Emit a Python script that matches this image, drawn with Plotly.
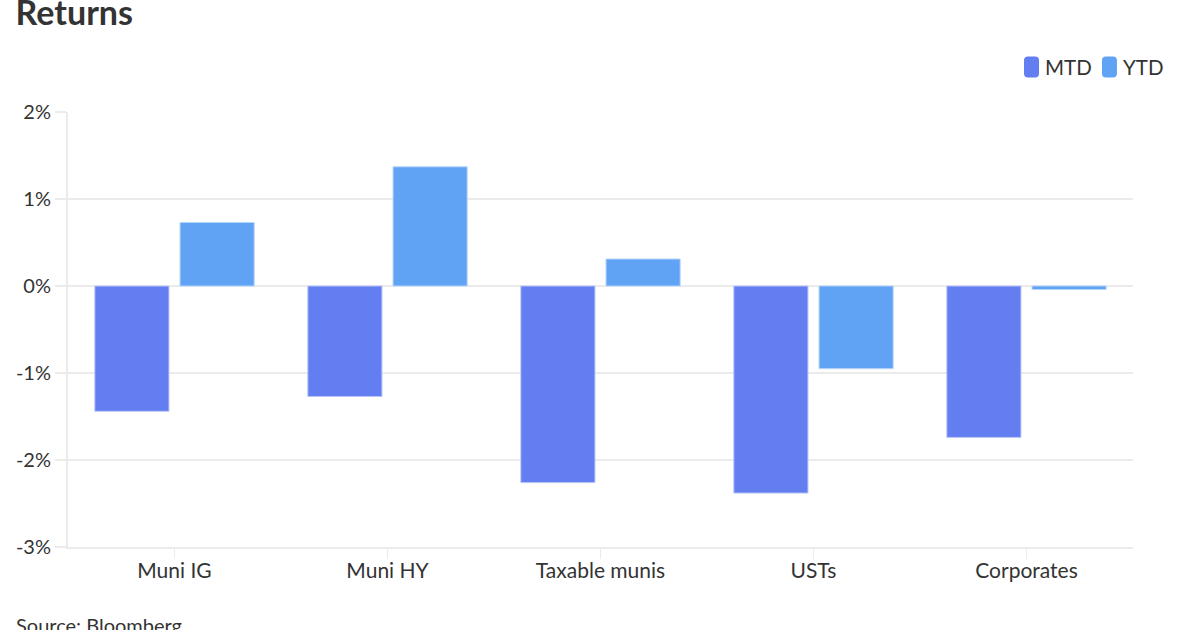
import plotly.graph_objects as go

categories = ["Muni IG", "Muni HY", "Taxable munis", "USTs", "Corporates"]
mtd = [-1.44, -1.27, -2.26, -2.38, -1.74]
ytd = [0.73, 1.37, 0.31, -0.95, -0.04]
y_ticks = [2, 1, 0, -1, -2, -3]
y_tick_labels = ["2%", "1%", "0%", "-1%", "-2%", "-3%"]
series_names = ["MTD", "YTD"]
series_colors = ["#637ef0", "#60a3f4"]
series_edges = ["#b9c5f7", "#b5d4fa"]

FONT = "Lato, 'Open Sans', sans-serif"
GRID = "#ebebeb"
TXT = "#333333"

fig = go.Figure()
for name, vals, col, edge in zip(series_names, [mtd, ytd], series_colors, series_edges):
    fig.add_trace(go.Bar(
        name=name, x=categories, y=vals,
        marker=dict(color=col, line=dict(color=edge, width=1)),
    ))

fig.update_layout(
    width=1200, height=630,
    paper_bgcolor="white", plot_bgcolor="white",
    margin=dict(l=68, r=67, t=112, b=83),
    barmode="group", bargap=0.2, bargroupgap=0.13,
    font=dict(family=FONT, size=20, color=TXT),
    title=dict(text="<b>Returns</b>", x=0.013, xanchor="left",
               yref="container", y=0.979, yanchor="middle",
               font=dict(family=FONT, size=34, color=TXT)),
    showlegend=False,
)
fig.update_xaxes(
    showgrid=False, showline=True, linecolor=GRID, linewidth=2,
    ticks="outside", ticklen=10, tickcolor=GRID, tickwidth=1,
    ticklabelstandoff=-6,
    tickfont=dict(size=21, color=TXT),
)
fig.update_yaxes(
    range=[-3, 2], tickvals=y_ticks, ticktext=y_tick_labels,
    showgrid=True, gridcolor=GRID, gridwidth=2,
    zeroline=True, zerolinecolor=GRID, zerolinewidth=2,
    showline=True, linecolor=GRID, linewidth=2,
    ticks="outside", ticklen=11, tickcolor=GRID, tickwidth=2,
    tickfont=dict(size=20, color=TXT),
)

# custom legend with rounded swatches
rr = "M -7.5 -6.5 Q -7.5 -10.5 -3.5 -10.5 L 3.5 -10.5 Q 7.5 -10.5 7.5 -6.5 L 7.5 6.5 Q 7.5 10.5 3.5 10.5 L -3.5 10.5 Q -7.5 10.5 -7.5 6.5 Z"
leg_swatch_x = [0.9047, 0.9779]
leg_text_x = [0.9155, 0.9888]
leg_y = 1.1034
for name, col, sx, tx in zip(series_names, series_colors, leg_swatch_x, leg_text_x):
    fig.add_shape(type="path", xref="paper", yref="paper",
                  xsizemode="pixel", ysizemode="pixel", xanchor=sx, yanchor=leg_y,
                  path=rr, fillcolor=col, line=dict(width=0))
    fig.add_annotation(text=name, xref="paper", yref="paper", x=tx, y=leg_y,
                       xanchor="left", yanchor="middle", showarrow=False,
                       font=dict(family=FONT, size=20.5, color=TXT))

fig.add_annotation(
    text="Source: Bloomberg", xref="paper", yref="paper",
    x=-0.051, xanchor="left", y=-0.148, yanchor="top", showarrow=False,
    font=dict(family=FONT, size=20, color=TXT),
)
fig.write_html("out.html", config={"displayModeBar": False},
               post_script="document.body.style.margin='0';")
